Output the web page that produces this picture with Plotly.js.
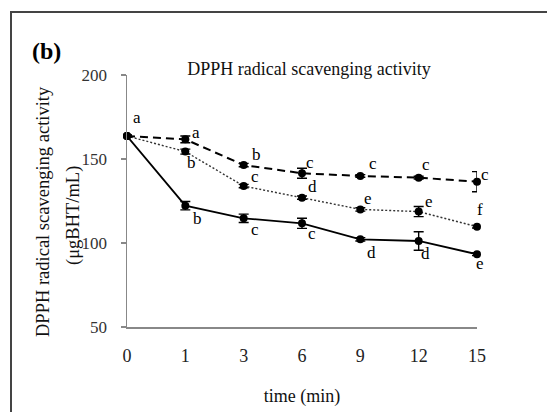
<!DOCTYPE html>
<html>
<head>
<meta charset="utf-8">
<script src="https://cdn.plot.ly/plotly-3.0.1.min.js"></script>
<style>
  html, body { margin: 0; padding: 0; background: #fff; }
  #chart { width: 547px; height: 412px; }
</style>
</head>
<body>
<div id="chart"></div>
<script>
// ---- data ----
const times = ['0', '1', '3', '6', '9', '12', '15'];

const solidVals   = [163.7, 122.2, 114.7, 111.7, 102.2, 101.2, 93.3];
const solidErr    = [0.5, 2.5, 2.5, 3, 1, 5.5, 0.8];
const solidLetters = ['', 'b', 'c', 'c', 'd', 'd', 'e'];

const dashedVals  = [163.7, 161.7, 146.4, 141.5, 139.9, 138.9, 136.5];
const dashedErr   = [0.5, 2, 1, 3, 0.8, 0.8, 6];
const dashedLetters = ['a', 'a', 'b', 'c', 'c', 'c', 'c'];

const dottedVals  = [163.7, 154.4, 133.9, 127.0, 120.0, 118.7, 109.7];
const dottedErr   = [0.5, 1.5, 1, 1, 1, 3, 0.8];
const dottedLetters = ['', 'b', 'c', 'd', 'e', 'e', 'f'];

const yTicks = [50, 100, 150, 200];

// ---- traces ----
const serif = '"Liberation Serif", "Times New Roman", serif';
function mk(vals, err, dash, width, color) {
  return {
    x: times, y: vals, type: 'scatter', mode: 'lines+markers',
    line: { color: color, width: width, dash: dash },
    marker: { color: '#000', size: 8, symbol: 'circle' },
    error_y: { type: 'data', array: err, visible: true, color: '#000', thickness: 1.4, width: 5 },
    showlegend: false, cliponaxis: false
  };
}
const traces = [
  mk(dottedVals, dottedErr, '2px,2px', 1.4, '#333'),
  mk(dashedVals, dashedErr, '8px,5px', 2, '#000'),
  mk(solidVals, solidErr, 'solid', 1.8, '#000')
];

// ---- letter annotations (x given as category index) ----
const annotations = [];
function addLetters(vals, letters, offs) {
  letters.forEach((l, i) => {
    if (!l) return;
    annotations.push({
      x: i, y: vals[i], xref: 'x', yref: 'y', text: l, showarrow: false,
      xanchor: 'center', yanchor: 'middle',
      xshift: offs[i][0], yshift: -offs[i][1],
      font: { family: serif, size: 17, color: '#000' }
    });
  });
}
addLetters(dashedVals, dashedLetters, [[10,-18],[11,-7],[13,-11],[8,-11],[13,-12],[7,-13],[8,-7]]);
addLetters(dottedVals, dottedLetters, [[0,0],[6,11],[11,-10],[10,-11],[8,-11],[10,-10],[3,-17]]);
addLetters(solidVals, solidLetters, [[0,0],[12,13],[11,11],[10,10],[11,13],[7,13],[3,9]]);

// panel label and y title (pixel-placed via paper coords)
const L = 127, R = 70, T = 75, B = 85, W = 547, H = 412;
const pw = W - L - R, ph = H - T - B;
const px = x => (x - L) / pw;
const py = y => (H - B - y) / ph;

annotations.push({
  xref: 'paper', yref: 'paper', x: px(46), y: py(51), xanchor: 'center', yanchor: 'middle',
  text: '<b>(b)</b>', showarrow: false,
  font: { family: serif, size: 24, color: '#000' }
});
annotations.push({
  xref: 'paper', yref: 'paper', x: px(43), y: py(212), xanchor: 'center', yanchor: 'middle',
  text: 'DPPH radical scavenging activity',
  textangle: -90, showarrow: false, font: { family: serif, size: 18.5, color: '#111' }
});
annotations.push({
  xref: 'paper', yref: 'paper', x: px(73), y: py(216), xanchor: 'center', yanchor: 'middle',
  text: '(μgBHT/mL)',
  textangle: -90, showarrow: false, font: { family: serif, size: 18.5, color: '#111' }
});

const shapes = [
  { type: 'line', xref: 'paper', yref: 'paper', x0: px(11), x1: px(11), y0: py(415), y1: py(12),
    line: { color: '#444', width: 2 } },
  { type: 'line', xref: 'paper', yref: 'paper', x0: px(10), x1: px(550), y0: py(12), y1: py(12),
    line: { color: '#444', width: 2 } }
];

const layout = {
  width: W, height: H,
  margin: { l: L, r: R, t: T, b: B, pad: 0 },
  paper_bgcolor: '#fff', plot_bgcolor: '#fff',
  font: { family: serif, size: 14, color: '#222' },
  title: {
    text: 'DPPH radical scavenging activity',
    x: 309 / W, xanchor: 'center', y: 1 - 69 / H, yanchor: 'middle',
    font: { family: serif, size: 18, color: '#111' }
  },
  xaxis: {
    type: 'category', range: [0, 6], showgrid: false, zeroline: false,
    showline: true, linecolor: '#888', linewidth: 1.5,
    ticks: '', tickfont: { family: serif, size: 18, color: '#222' },
    ticklabelstandoff: 12,
    title: { text: 'time (min)', font: { family: serif, size: 18, color: '#111' }, standoff: 24 }
  },
  yaxis: {
    range: [50, 200], tickvals: yTicks, showgrid: false, zeroline: false,
    showline: true, linecolor: '#888', linewidth: 1.5,
    ticks: 'outside', ticklen: 5, tickcolor: '#888', tickwidth: 1.2,
    tickfont: { family: serif, size: 17, color: '#333' },
    ticklabelstandoff: 10
  },
  annotations: annotations,
  shapes: shapes
};

Plotly.newPlot('chart', traces, layout, { displayModeBar: false, staticPlot: true });
</script>
</body>
</html>
